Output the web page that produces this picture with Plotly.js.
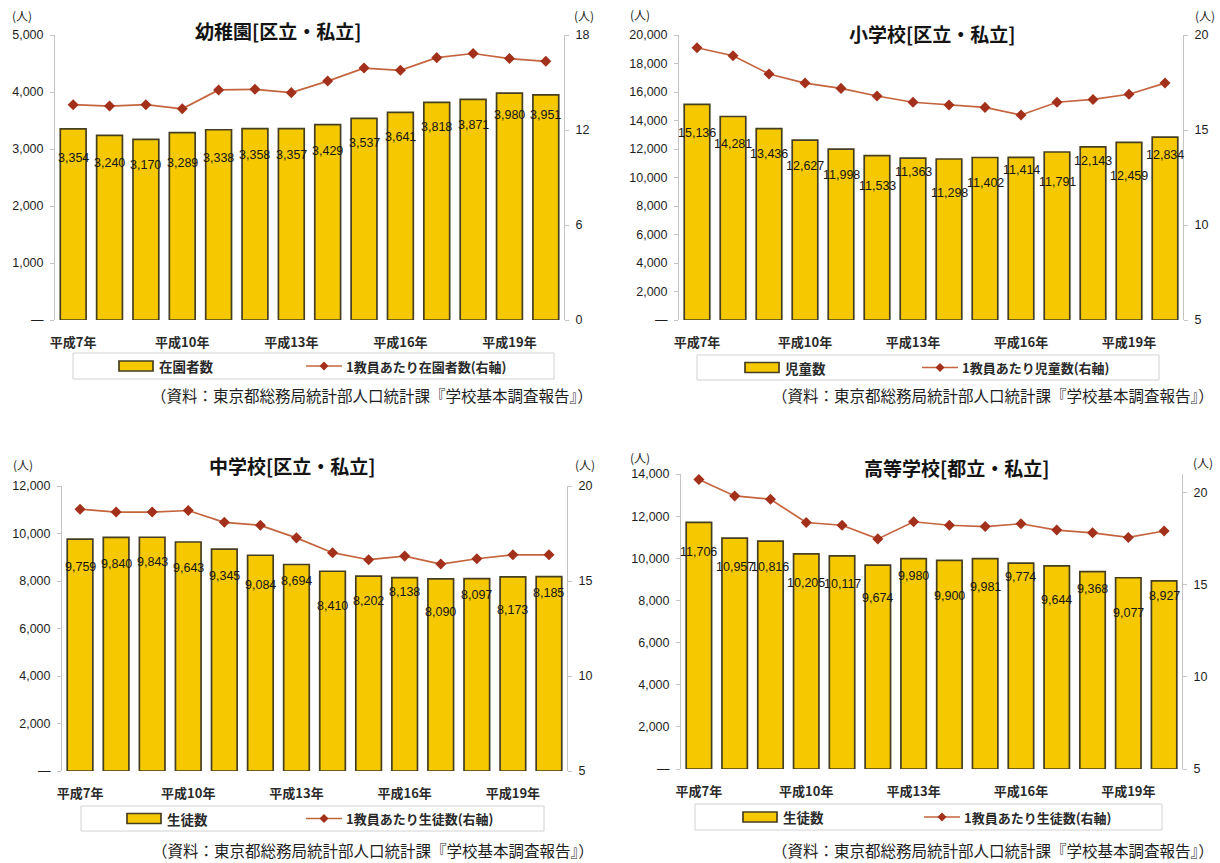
<!DOCTYPE html>
<html>
<head>
<meta charset="utf-8">
<script src="https://cdn.plot.ly/plotly-3.0.1.min.js"></script>
<style>
  html, body { margin: 0; padding: 0; background: #fff; }
  #chart { width: 1220px; height: 863px; }
</style>
</head>
<body>
<div id="chart"></div>
<script>
// 年度（平成7年〜平成20年）
const categories = ['平成7年', '平成8年', '平成9年', '平成10年', '平成11年', '平成12年', '平成13年',
  '平成14年', '平成15年', '平成16年', '平成17年', '平成18年', '平成19年', '平成20年'];
const shownTicks = ['平成7年', '平成10年', '平成13年', '平成16年', '平成19年'];

// 幼稚園
const kinderCount = [3354, 3240, 3170, 3289, 3338, 3358, 3357, 3429, 3537, 3641, 3818, 3871, 3980, 3951];
const kinderPerTeacher = [13.60, 13.51, 13.60, 13.34, 14.53, 14.57, 14.36, 15.09, 15.91, 15.77, 16.57, 16.83, 16.51, 16.34];
// 小学校
const elemCount = [15136, 14281, 13436, 12627, 11998, 11533, 11363, 11298, 11402, 11414, 11791, 12143, 12459, 12834];
const elemPerTeacher = [19.33, 18.91, 17.95, 17.47, 17.19, 16.79, 16.46, 16.32, 16.19, 15.79, 16.46, 16.61, 16.88, 17.47];
// 中学校
const juniorCount = [9759, 9840, 9843, 9643, 9345, 9084, 8694, 8410, 8202, 8138, 8090, 8097, 8173, 8185];
const juniorPerTeacher = [18.78, 18.63, 18.63, 18.71, 18.09, 17.93, 17.27, 16.49, 16.12, 16.31, 15.89, 16.17, 16.38, 16.38];
// 高等学校
const highCount = [11706, 10957, 10816, 10205, 10117, 9674, 9980, 9900, 9981, 9774, 9644, 9368, 9077, 8927];
const highPerTeacher = [20.70, 19.81, 19.63, 18.37, 18.22, 17.48, 18.41, 18.22, 18.15, 18.30, 17.96, 17.81, 17.56, 17.91];

// 軸の目盛
const kinderTicks = [0, 1000, 2000, 3000, 4000, 5000];
const kinderRightTicks = [0, 6, 12, 18];
const elemTicks = [0, 2000, 4000, 6000, 8000, 10000, 12000, 14000, 16000, 18000, 20000];
const juniorTicks = [0, 2000, 4000, 6000, 8000, 10000, 12000];
const highTicks = [0, 2000, 4000, 6000, 8000, 10000, 12000, 14000];
const rightTicks5 = [5, 10, 15, 20];

// データラベルを棒の上端から下げる量（px）
const kinderLabelDrop = [29, 28, 26, 30, 28, 26, 26, 26, 25, 25, 25, 26, 22, 20];
const elemLabelDrop = [29, 27, 25, 26, 26, 30, 14, 34, 25, 13, 30, 14, 34, 18];
const juniorLabelDrop = [28, 27, 25, 26, 27, 30, 16, 35, 25, 14, 33, 16, 33, 16];
const highLabelDrop = [30, 29, 26, 29, 28, 33, 17, 36, 28, 14, 34, 17, 35, 15];

const W = 1220, H = 863;
const px = x => x / W;
const py = y => 1 - y / H;

const BAR_FILL = '#f5c800';
const BAR_EDGE = '#463e20';
const LINE_COLOR = '#c4643e';
const MARK_COLOR = '#a3301a';
const TEXT = '#1e1e1e';
const AXIS_LINE = '#c4c4c4';
const NUM_FONT = 'Liberation Sans, Arial, sans-serif';
const JP_FONT = 'Noto Sans CJK JP, Noto Sans, sans-serif';
const SOURCE = '（資料：東京都総務局統計部人口統計課『学校基本調査報告』）';

const panels = [
  { title: '幼稚園[区立・私立]', barName: '在園者数', lineName: '1教員あたり在園者数(右軸)',
    bars: kinderCount, line: kinderPerTeacher, drop: kinderLabelDrop,
    ticks: kinderTicks, range: [0, 5000], rTicks: kinderRightTicks, rRange: [0, 18],
    box: { l: 55, r: 564, t: 35, b: 320 }, titleX: 278, titleY: 30,
    unitL: [22, 15], unitR: [584, 15],
    legend: { l: 73, r: 554, t: 353, b: 379, sw: 119, ln: 306 }, srcX: 595, srcY: 395 },
  { title: '小学校[区立・私立]', barName: '児童数', lineName: '1教員あたり児童数(右軸)',
    bars: elemCount, line: elemPerTeacher, drop: elemLabelDrop,
    ticks: elemTicks, range: [0, 20000], rTicks: rightTicks5, rRange: [5, 20],
    box: { l: 679, r: 1183, t: 35, b: 320 }, titleX: 932, titleY: 33,
    unitL: [640, 14], unitR: [1205, 15],
    legend: { l: 697, r: 1159, t: 355, b: 380, sw: 745, ln: 922 }, srcX: 1216, srcY: 395 },
  { title: '中学校[区立・私立]', barName: '生徒数', lineName: '1教員あたり生徒数(右軸)',
    bars: juniorCount, line: juniorPerTeacher, drop: juniorLabelDrop,
    ticks: juniorTicks, range: [0, 12000], rTicks: rightTicks5, rRange: [5, 20],
    box: { l: 62, r: 567, t: 486, b: 771 }, titleX: 292, titleY: 465,
    unitL: [23, 464], unitR: [585, 464],
    legend: { l: 81, r: 544, t: 806, b: 831, sw: 127, ln: 306 }, srcX: 596, srcY: 850 },
  { title: '高等学校[都立・私立]', barName: '生徒数', lineName: '1教員あたり生徒数(右軸)',
    bars: highCount, line: highPerTeacher, drop: highLabelDrop,
    ticks: highTicks, range: [0, 14000], rTicks: rightTicks5, rRange: [5, 21],
    box: { l: 681, r: 1182, t: 474, b: 769 }, titleX: 956, titleY: 467,
    unitL: [640, 457], unitR: [1203, 462],
    legend: { l: 695, r: 1162, t: 804, b: 830, sw: 743, ln: 924 }, srcX: 1216, srcY: 850 }
];

const traces = [];
const layout = {
  width: W, height: H,
  margin: { l: 0, r: 0, t: 0, b: 0 },
  paper_bgcolor: '#ffffff', plot_bgcolor: 'rgba(0,0,0,0)',
  showlegend: false,
  bargap: 0.29,
  font: { family: JP_FONT, color: TEXT },
  annotations: [], shapes: []
};

const fmt = v => v === 0 ? '—' : v.toLocaleString('en-US');

panels.forEach((p, i) => {
  const n = i + 1;
  const xa = n === 1 ? 'x' : 'x' + n;
  const yb = 'y' + (2 * n - 1 === 1 ? '' : 2 * n - 1);
  const yl = 'y' + (2 * n);
  const xKey = n === 1 ? 'xaxis' : 'xaxis' + n;
  const ybKey = 2 * n - 1 === 1 ? 'yaxis' : 'yaxis' + (2 * n - 1);
  const ylKey = 'yaxis' + (2 * n);

  traces.push({
    type: 'bar', x: categories, y: p.bars, name: p.barName,
    xaxis: xa, yaxis: yb,
    marker: { color: BAR_FILL, line: { color: BAR_EDGE, width: 1.7 } },
    hoverinfo: 'x+y'
  });
  traces.push({
    type: 'scatter', mode: 'lines+markers', x: categories, y: p.line, name: p.lineName,
    xaxis: xa, yaxis: yl,
    line: { color: LINE_COLOR, width: 1.7 },
    marker: { symbol: 'diamond', size: 8.5, color: MARK_COLOR }
  });

  layout[xKey] = {
    domain: [px(p.box.l), px(p.box.r)], anchor: yb,
    type: 'category', categoryorder: 'array', categoryarray: categories,
    range: [-0.5, categories.length - 0.5],
    tickmode: 'array', tickvals: shownTicks, ticktext: shownTicks.map(t => '<b>' + t + '</b>'),
    ticks: '', showline: false, showgrid: false, zeroline: false,
    ticklabelstandoff: 13,
    tickfont: { family: JP_FONT, size: 13, color: '#2a2a2a' }
  };
  const axisCommon = {
    showline: true, linecolor: AXIS_LINE, linewidth: 1,
    ticks: 'outside', ticklen: 4, tickcolor: AXIS_LINE,
    showgrid: false, zeroline: false, fixedrange: true,
    ticklabelstandoff: 4,
    tickfont: { family: NUM_FONT, size: 12.5, color: TEXT }
  };
  layout[ybKey] = Object.assign({}, axisCommon, {
    domain: [py(p.box.b), py(p.box.t)], anchor: xa, side: 'left',
    range: p.range, tickmode: 'array', tickvals: p.ticks, ticktext: p.ticks.map(fmt)
  });
  layout[ylKey] = Object.assign({}, axisCommon, {
    overlaying: yb, anchor: xa, side: 'right',
    range: p.rRange, tickmode: 'array', tickvals: p.rTicks, ticktext: p.rTicks.map(String)
  });

  // データラベル
  p.bars.forEach((v, k) => {
    layout.annotations.push({
      xref: xa, yref: yb, x: categories[k], y: v, yshift: -p.drop[k],
      text: v.toLocaleString('en-US'), showarrow: false,
      xanchor: 'center', yanchor: 'middle',
      font: { family: NUM_FONT, size: 12.5, color: '#161616' }
    });
  });

  // タイトル・単位・出典
  layout.annotations.push({
    xref: 'paper', yref: 'paper', x: px(p.titleX), y: py(p.titleY),
    text: '<b>' + p.title + '</b>', showarrow: false, xanchor: 'center', yanchor: 'middle',
    font: { family: JP_FONT, size: 19, color: '#141414' }
  });
  [p.unitL, p.unitR].forEach(u => layout.annotations.push({
    xref: 'paper', yref: 'paper', x: px(u[0]), y: py(u[1]),
    text: '(人)', showarrow: false, xanchor: 'center', yanchor: 'middle',
    font: { family: JP_FONT, size: 12, color: TEXT }
  }));
  layout.annotations.push({
    xref: 'paper', yref: 'paper', x: px(p.srcX), y: py(p.srcY),
    text: SOURCE, showarrow: false, xanchor: 'right', yanchor: 'middle',
    font: { family: JP_FONT, size: 15.5, color: '#1e1e1e' }
  });

  // 凡例
  const L = p.legend;
  const midY = (L.t + L.b) / 2;
  layout.shapes.push({
    type: 'rect', xref: 'paper', yref: 'paper',
    x0: px(L.l), x1: px(L.r), y0: py(L.b), y1: py(L.t),
    line: { color: '#d2d2d2', width: 1 }, fillcolor: '#ffffff', layer: 'below'
  });
  layout.shapes.push({
    type: 'rect', xref: 'paper', yref: 'paper',
    x0: px(L.sw), x1: px(L.sw + 34), y0: py(midY + 5), y1: py(midY - 5),
    line: { color: BAR_EDGE, width: 1.7 }, fillcolor: BAR_FILL
  });
  layout.annotations.push({
    xref: 'paper', yref: 'paper', x: px(L.sw + 38), y: py(midY),
    text: '<b>' + p.barName + '</b>', showarrow: false, xanchor: 'left', yanchor: 'middle',
    font: { family: JP_FONT, size: 13.5, color: '#2a2a2a' }
  });
  layout.shapes.push({
    type: 'line', xref: 'paper', yref: 'paper',
    x0: px(L.ln), x1: px(L.ln + 36), y0: py(midY), y1: py(midY),
    line: { color: LINE_COLOR, width: 1.7 }
  });
  const cx = L.ln + 18, r = 4.5;
  layout.shapes.push({
    type: 'path', xref: 'paper', yref: 'paper',
    path: `M ${px(cx)} ${py(midY - r)} L ${px(cx + r)} ${py(midY)} L ${px(cx)} ${py(midY + r)} L ${px(cx - r)} ${py(midY)} Z`,
    fillcolor: MARK_COLOR, line: { color: MARK_COLOR, width: 0 }
  });
  layout.annotations.push({
    xref: 'paper', yref: 'paper', x: px(L.ln + 38), y: py(midY),
    text: '<b>' + p.lineName + '</b>', showarrow: false, xanchor: 'left', yanchor: 'middle',
    font: { family: JP_FONT, size: 13, color: '#2a2a2a' }
  });
});

Plotly.newPlot('chart', traces, layout, { displayModeBar: false, staticPlot: true });
</script>
</body>
</html>
